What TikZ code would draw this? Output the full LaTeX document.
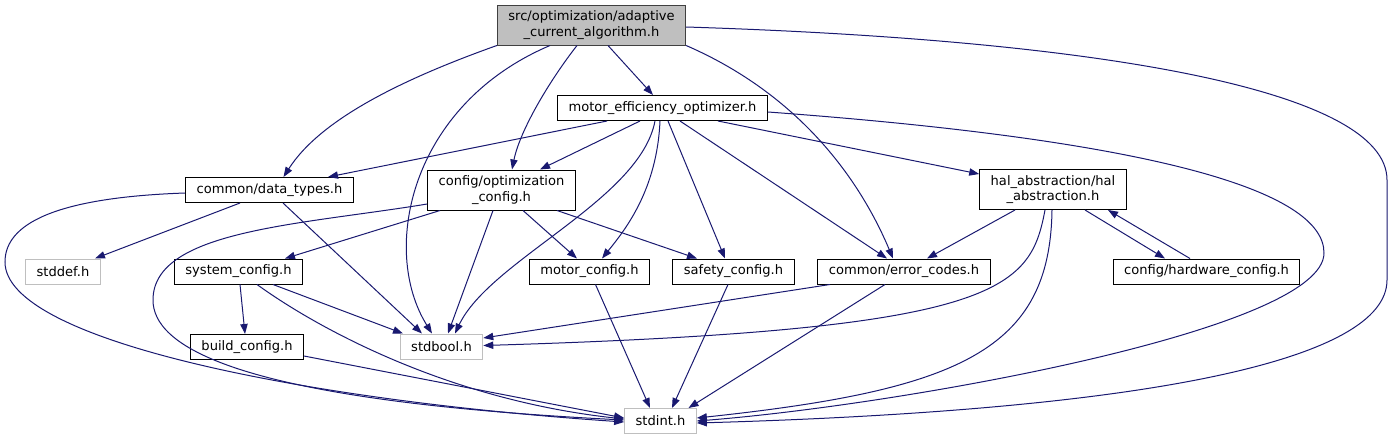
\documentclass[tikz,border=0pt]{standalone}
\usepackage{fontspec}
\setmainfont{DejaVu Sans}
\usetikzlibrary{arrows.meta,calc}
\definecolor{edgeblue}{HTML}{191970}
\definecolor{sysgray}{HTML}{BFBFBF}

\begin{document}
\begin{tikzpicture}[x=0.75pt,y=-0.75pt,font=\fontsize{9.8}{11.5}\selectfont,>={Triangle[length=7.5pt,width=5.5pt]},
 hdr/.style={draw=black,line width=0.75pt,inner xsep=8.25pt,inner ysep=0pt,minimum height=18.75pt,align=center},
 hdr2/.style={hdr,minimum height=30pt},
 sys/.style={hdr,draw=sysgray},
 rootbox/.style={hdr2,fill=sysgray,draw=black!75},
 dep/.style={->,draw=edgeblue,line width=0.75pt}]
\useasboundingbox (0,0) rectangle (1393,440);
\node[rootbox] (root) at (591.5,25) {src/optimization/adaptive\\\_current\_algorithm.h};
\node[hdr] (meo) at (662.5,108) {motor\_efficiency\_optimizer.h};
\node[hdr] (dtypes) at (269.5,190) {common/data\_types.h};
\node[hdr2] (optcfg) at (501.5,190) {config/optimization\\\_config.h};
\node[hdr2] (hal) at (1053,189.5) {hal\_abstraction/hal\\\_abstraction.h};
\node[sys] (stddef) at (63,271.5) {stddef.h};
\node[hdr] (syscfg) at (238.5,271.5) {system\_config.h};
\node[hdr] (motcfg) at (589.5,271.5) {motor\_config.h};
\node[hdr] (safecfg) at (733.5,271.5) {safety\_config.h};
\node[hdr] (errc) at (904,271.5) {common/error\_codes.h};
\node[hdr] (hwcfg) at (1206.5,271.5) {config/hardware\_config.h};
\node[hdr] (buildcfg) at (247,347) {build\_config.h};
\node[sys] (stdbool) at (441.5,346.5) {stdbool.h};
\node[sys] (stdint) at (660.5,421) {stdint.h};
% root includes
\draw[dep] ($(root.south)+(16.5,0)$) -- ($(meo.north)+(-9.5,0)$);
\draw[dep] ($(root.south)+(-14.5,0)$) .. controls (550,80) and (520,130) .. ($(optcfg.north)+(10.5,0)$);
\draw[dep] ($(root.south)+(-41.5,0)$) .. controls (410,105) and (380,250) .. ($(stdbool.north)+(-9.5,0)$);
\draw[dep] (root.south west) .. controls (400,80) and (320,120) .. ($(dtypes.north)+(14,0)$);
\draw[dep] (root.south east) .. controls (800,95) and (860,180) .. ($(errc.north)+(-11,0)$);
\draw[dep] ($(root.east)+(0,2)$) .. controls (1100,40) and (1387,90) .. (1387,180) -- (1387,280) .. controls (1387,360) and (1150,410) .. ($(stdint.east)+(0,2)$);
% motor_efficiency_optimizer.h
\draw[dep] ($(meo.south)+(-55.5,0)$) -- ($(dtypes.north)+(58.5,0)$);
\draw[dep] ($(meo.south)+(-22.5,0)$) -- ($(optcfg.north)+(38.5,0)$);
\draw[dep] ($(meo.south)+(-7.5,0)$) .. controls (640,200) and (490,260) .. ($(stdbool.north)+(13.5,0)$);
\draw[dep] ($(meo.south)+(-2.5,0)$) .. controls (657,190) and (625,230) .. ($(motcfg.north)+(12.5,0)$);
\draw[dep] ($(meo.south)+(5.5,0)$) -- ($(safecfg.north)+(-8.5,0)$);
\draw[dep] ($(meo.south)+(17.5,0)$) -- ($(errc.north)+(-17,0)$);
\draw[dep] ($(meo.south)+(55.5,0)$) -- ($(hal.west)+(0,-15.5)$);
\draw[dep] ($(meo.east)+(0,4)$) .. controls (1150,140) and (1324,190) .. (1324,253) .. controls (1324,330) and (900,405) .. (stdint.east);
% common/data_types.h
\draw[dep] ($(dtypes.south)+(-29.5,0)$) -- ($(stddef.north)+(32,0)$);
\draw[dep] ($(dtypes.south)+(13.5,0)$) -- ($(stdbool.north)+(-19.5,0)$);
\draw[dep] ($(dtypes.west)+(0,3)$) .. controls (40,198) and (5,230) .. (5,262) .. controls (5,340) and (300,400) .. ($(stdint.west)+(0,1)$);
% config/optimization_config.h
\draw[dep] ($(optcfg.south)+(-61.5,0)$) -- ($(syscfg.north)+(46.5,0)$);
\draw[dep] ($(optcfg.west)+(0,14)$) .. controls (300,225) and (153,230) .. (153,300) .. controls (153,345) and (230,400) .. ($(stdint.west)+(0,-1)$);
\draw[dep] ($(optcfg.south)+(-8.5,0)$) -- ($(stdbool.north)+(6.5,0)$);
\draw[dep] ($(optcfg.south)+(21.5,0)$) -- ($(motcfg.north)+(-12.5,0)$);
\draw[dep] ($(optcfg.south)+(55.5,0)$) -- ($(safecfg.north)+(-36.5,0)$);
% system_config.h, build_config.h
\draw[dep] ($(syscfg.south)+(1.5,0)$) -- ($(buildcfg.north)+(-2,0)$);
\draw[dep] ($(syscfg.south)+(34.5,0)$) -- ($(stdbool.north)+(-38.5,0)$);
\draw[dep] ($(syscfg.south)+(18.5,0)$) .. controls (320,330) and (450,400) .. ($(stdint.west)+(0,-2)$);
\draw[dep] ($(buildcfg.east)+(0,9)$) -- ($(stdint.west)+(0,-3)$);
% motor, safety, error codes
\draw[dep] ($(motcfg.south)+(6,0)$) -- ($(stdint.north)+(-10.5,0)$);
\draw[dep] ($(safecfg.south)+(-5.5,0)$) -- ($(stdint.north)+(11.5,0)$);
\draw[dep] ($(errc.south)+(-74,0)$) -- ($(stdbool.east)+(0,-8.5)$);
\draw[dep] ($(errc.south)+(-19,0)$) -- ($(stdint.north)+(28,0)$);
% hal_abstraction/hal_abstraction.h
\draw[dep] ($(hal.south)+(-38,0)$) -- ($(errc.north)+(23,0)$);
\draw[dep] ($(hal.south)+(-8,0)$) .. controls (1030,290) and (1000,330) .. ($(stdbool.east)+(0,-1)$);
\draw[dep] ($(hal.south)+(-1,0)$) .. controls (1050,350) and (960,390) .. ($(stdint.east)+(0,-3)$);
\draw[dep] ($(hal.south)+(32,0)$) -- ($(hwcfg.north)+(-41.5,0)$);
\draw[dep] ($(hwcfg.north)+(-16.5,0)$) -- ($(hal.south)+(55,0)$);
\end{tikzpicture}
\end{document}
